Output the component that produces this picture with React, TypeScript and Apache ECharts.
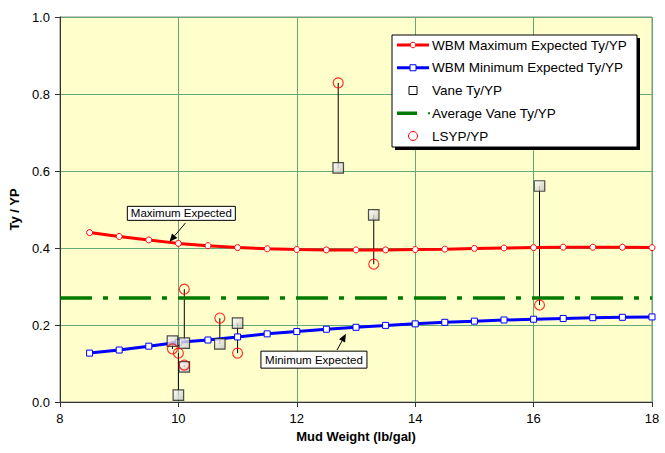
import React, { useEffect, useRef } from "react";
import * as echarts from "echarts";

// Mud weight (lb/gal) for the expected curves
const curveX = [8.5, 9, 9.5, 10, 10.5, 11, 11.5, 12, 12.5, 13, 13.5, 14, 14.5, 15, 15.5, 16, 16.5, 17, 17.5, 18];
const maxExpected = [0.44, 0.43, 0.421, 0.412, 0.406, 0.401, 0.398, 0.396, 0.395, 0.395, 0.395, 0.396, 0.397, 0.399, 0.4, 0.401, 0.402, 0.402, 0.402, 0.401];
const minExpected = [0.127, 0.135, 0.145, 0.155, 0.161, 0.169, 0.177, 0.183, 0.189, 0.194, 0.199, 0.203, 0.207, 0.21, 0.213, 0.215, 0.217, 0.219, 0.22, 0.221];
const avgVane = 0.27;
const avgRange = [8, 18];

// measured samples
const sampleX = [9.9, 10.0, 10.1, 10.1, 10.7, 11.0, 12.7, 13.3, 16.1];
const vaneY = [0.158, 0.018, 0.153, 0.091, 0.151, 0.205, 0.608, 0.486, 0.561];
const lsypY = [0.138, 0.127, 0.293, 0.096, 0.218, 0.127, 0.829, 0.358, 0.252];

const names = [
  "WBM Maximum Expected Ty/YP",
  "WBM Minimum Expected Ty/YP",
  "Vane Ty/YP",
  "Average Vane Ty/YP",
  "LSYP/YP",
];

const annotations = [
  { label: "Maximum Expected", box: [10.05, 0.49], tail: [10.12, 0.465], tip: [9.85, 0.416], w: 108, h: 14 },
  { label: "Minimum Expected", box: [12.29, 0.11], tail: [12.68, 0.135], tip: [12.83, 0.177], w: 106, h: 17 },
];

const FONT = "'Liberation Sans', Arial, sans-serif";

const RED = "#ff0000";
const BLUE = "#0000ff";
const GREEN = "#007a00";

function buildLegend() {
  const bx = 392;
  const by = 35;
  const bw = 245;
  const bh = 112;
  const x0 = 397;
  const x1 = 429;
  const xm = 413;
  const tx = 432;
  const rowY = (i: number) => 45 + i * 22.75;
  const els: any[] = [
    { type: "rect", z: 6, shape: { x: bx + 3, y: by + 3, width: bw, height: bh }, style: { fill: "#000" } },
    { type: "rect", z: 7, shape: { x: bx, y: by, width: bw, height: bh }, style: { fill: "#fff", stroke: "#000", lineWidth: 1 } },
  ];
  let y = rowY(0);
  els.push({ type: "line", z: 8, shape: { x1: x0, y1: y, x2: x1, y2: y }, style: { stroke: RED, lineWidth: 3 } });
  els.push({ type: "circle", z: 9, shape: { cx: xm, cy: y, r: 2.8 }, style: { fill: "#fff", stroke: RED, lineWidth: 1 } });
  y = rowY(1);
  els.push({ type: "line", z: 8, shape: { x1: x0, y1: y, x2: x1, y2: y }, style: { stroke: BLUE, lineWidth: 3 } });
  els.push({ type: "rect", z: 9, shape: { x: xm - 3, y: y - 3, width: 6, height: 6 }, style: { fill: "#fff", stroke: BLUE, lineWidth: 1 } });
  y = rowY(2);
  els.push({ type: "rect", z: 9, shape: { x: xm - 4, y: y - 4, width: 8, height: 8 }, style: { fill: "#fff", stroke: "#000", lineWidth: 1 } });
  y = rowY(3);
  els.push({ type: "line", z: 8, shape: { x1: x0, y1: y, x2: x0 + 20, y2: y }, style: { stroke: GREEN, lineWidth: 3.5 } });
  els.push({ type: "line", z: 8, shape: { x1: x1 - 1, y1: y, x2: x1 + 1, y2: y }, style: { stroke: GREEN, lineWidth: 2 } });
  y = rowY(4);
  els.push({ type: "circle", z: 9, shape: { cx: xm, cy: y, r: 4.5 }, style: { fill: "#fff", stroke: RED, lineWidth: 1 } });
  names.forEach((n, i) => {
    els.push({
      type: "text",
      z: 9,
      x: tx,
      y: rowY(i),
      style: { text: n, fontFamily: FONT, fontSize: 13.5, fill: "#000", align: "left", verticalAlign: "middle" },
    });
  });
  return els;
}

export default function App() {
  const ref = useRef<HTMLDivElement>(null);
  useEffect(() => {
    if (!ref.current) return;
    const chart = echarts.init(ref.current, undefined, { renderer: "svg" });
    const option: any = {
      animation: false,
      backgroundColor: "#ffffff",
      grid: {
        left: 58,
        right: 13,
        top: 17,
        bottom: 51,
        show: true,
        backgroundColor: "#FFFFCC",
        borderColor: "#888888",
        borderWidth: 1,
      },
      xAxis: {
        type: "value",
        min: 8,
        max: 18,
        interval: 2,
        name: "Mud Weight (lb/gal)",
        nameLocation: "middle",
        nameGap: 28,
        nameTextStyle: { fontFamily: FONT, fontSize: 13, fontWeight: "bold", color: "#000" },
        axisLine: { show: true, onZero: false, lineStyle: { color: "#333", width: 1 } },
        axisTick: { show: true, inside: false, length: 5, lineStyle: { color: "#333" } },
        axisLabel: { fontFamily: FONT, fontSize: 13, color: "#000", margin: 10 },
        splitLine: { show: true, lineStyle: { color: "#64aa78", width: 1 } },
      },
      yAxis: {
        type: "value",
        min: 0,
        max: 1,
        interval: 0.2,
        name: "Ty / YP",
        nameLocation: "middle",
        nameRotate: 90,
        nameGap: 31,
        nameTextStyle: { fontFamily: FONT, fontSize: 13, fontWeight: "bold", color: "#000" },
        axisLine: { show: true, lineStyle: { color: "#333", width: 1 } },
        axisTick: { show: true, inside: false, length: 5, lineStyle: { color: "#333" } },
        axisLabel: {
          fontFamily: FONT,
          fontSize: 13,
          color: "#000",
          margin: 10,
          formatter: (v: number) => v.toFixed(1),
        },
        splitLine: { show: true, lineStyle: { color: "#64aa78", width: 1 } },
      },
      graphic: buildLegend(),
      series: [
        {
          name: "connectors",
          type: "custom",
          z: 2,
          data: sampleX.map((x, i) => [x, vaneY[i], lsypY[i]]),
          encode: { x: 0, y: [1, 2] },
          renderItem: (_p: any, api: any) => {
            const a = api.coord([api.value(0), api.value(1)]);
            const b = api.coord([api.value(0), api.value(2)]);
            return {
              type: "line",
              shape: { x1: a[0], y1: a[1], x2: b[0], y2: b[1] },
              style: { stroke: "#000", lineWidth: 1 },
            };
          },
        },
        {
          name: names[3],
          type: "line",
          z: 2,
          data: avgRange.map((x) => [x, avgVane]),
          symbol: "none",
          lineStyle: { color: GREEN, width: 3.5, type: [32, 11, 5, 11] },
          itemStyle: { color: GREEN },
        },
        {
          name: names[0],
          type: "line",
          z: 3,
          data: curveX.map((x, i) => [x, maxExpected[i]]),
          symbol: "circle",
          symbolSize: 6,
          lineStyle: { color: RED, width: 3 },
          itemStyle: { color: "#ffffff", borderColor: RED, borderWidth: 1 },
        },
        {
          name: names[1],
          type: "line",
          z: 3,
          data: curveX.map((x, i) => [x, minExpected[i]]),
          symbol: "rect",
          symbolSize: 6,
          lineStyle: { color: BLUE, width: 3 },
          itemStyle: { color: "#ffffff", borderColor: BLUE, borderWidth: 1 },
        },
        {
          name: names[2],
          type: "scatter",
          z: 4,
          data: sampleX.map((x, i) => [x, vaneY[i]]),
          symbol: "rect",
          symbolSize: 10.5,
          itemStyle: {
            color: new echarts.graphic.LinearGradient(0, 0, 1, 1, [
              { offset: 0, color: "#ffffff" },
              { offset: 1, color: "#c0c0c0" },
            ]),
            borderColor: "#222",
            borderWidth: 1.2,
          },
        },
        {
          name: names[4],
          type: "scatter",
          z: 4,
          data: sampleX.map((x, i) => [x, lsypY[i]]),
          symbol: "circle",
          symbolSize: 10,
          itemStyle: { color: "rgba(255,255,255,0)", borderColor: RED, borderWidth: 1.2 },
        },
        {
          name: "annotations",
          type: "custom",
          z: 5,
          data: annotations.map((a, i) => [a.box[0], a.box[1], i]),
          encode: { x: 0, y: 1 },
          renderItem: (p: any, api: any) => {
            const a = annotations[p.dataIndex];
            const c = api.coord(a.box);
            const t0 = api.coord(a.tail);
            const t1 = api.coord(a.tip);
            const dx = t1[0] - t0[0];
            const dy = t1[1] - t0[1];
            const len = Math.sqrt(dx * dx + dy * dy) || 1;
            const ux = dx / len;
            const uy = dy / len;
            const hl = 8;
            const hw = 3.5;
            const bx = t1[0] - ux * hl;
            const by = t1[1] - uy * hl;
            return {
              type: "group",
              children: [
                {
                  type: "line",
                  shape: { x1: t0[0], y1: t0[1], x2: bx, y2: by },
                  style: { stroke: "#000", lineWidth: 1 },
                },
                {
                  type: "polygon",
                  shape: {
                    points: [
                      [t1[0], t1[1]],
                      [bx - uy * hw, by + ux * hw],
                      [bx + uy * hw, by - ux * hw],
                    ],
                  },
                  style: { fill: "#000" },
                },
                {
                  type: "rect",
                  shape: { x: c[0] - a.w / 2, y: c[1] - a.h / 2, width: a.w, height: a.h },
                  style: { fill: "#fff", stroke: "#000", lineWidth: 1 },
                },
                {
                  type: "text",
                  style: {
                    text: a.label,
                    x: c[0],
                    y: c[1],
                    align: "center",
                    verticalAlign: "middle",
                    fontFamily: FONT,
                    fontSize: 11.5,
                    fill: "#000",
                  },
                },
              ],
            };
          },
        },
      ],
    };
    chart.setOption(option);
    return () => chart.dispose();
  }, []);
  return <div ref={ref} style={{ width: 665, height: 453, position: "absolute", left: 0, top: 0 }} />;
}
